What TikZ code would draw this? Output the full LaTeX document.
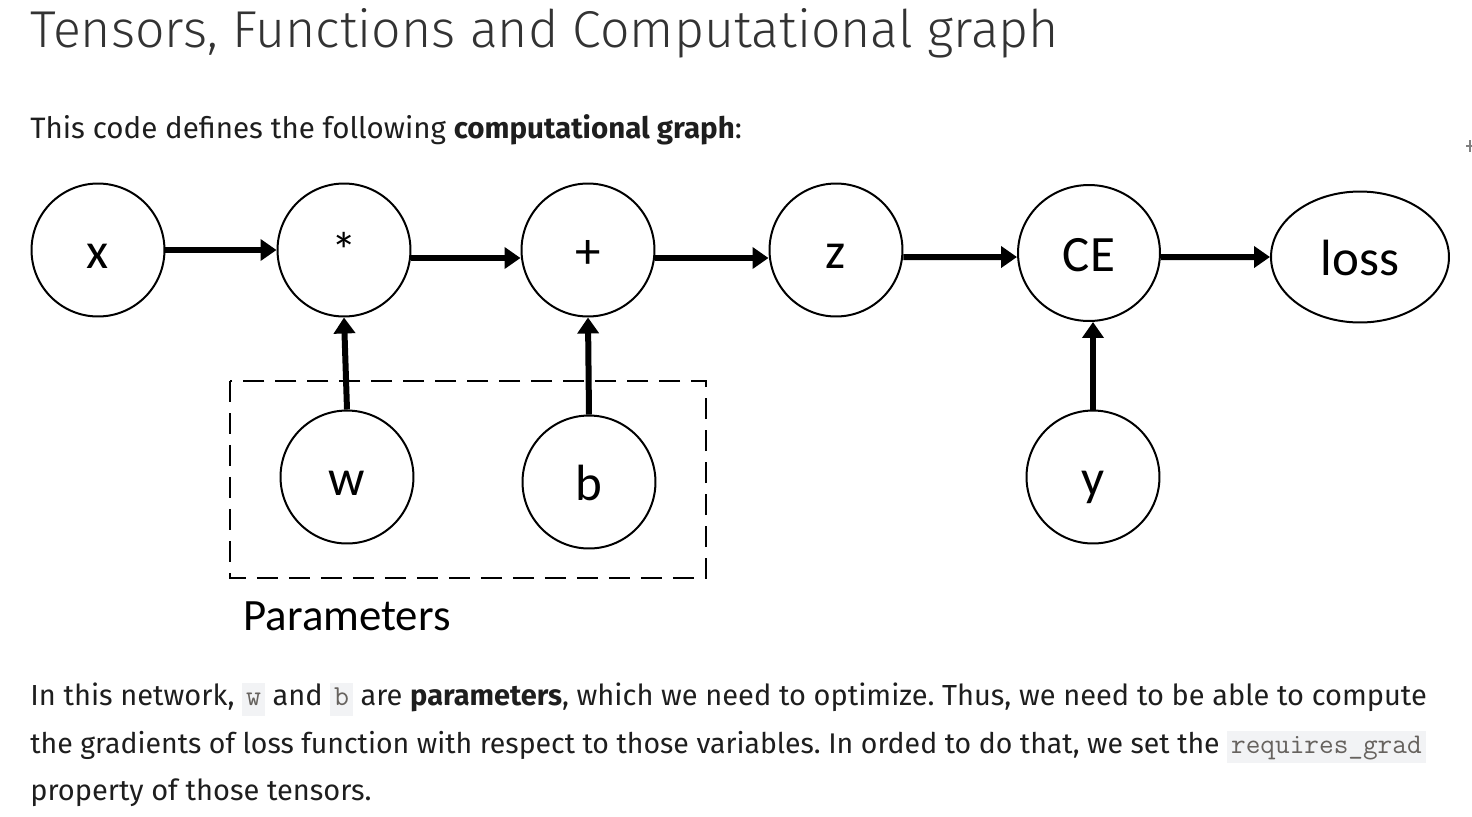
\documentclass[tikz,border=0pt]{standalone}
\usepackage{fontspec}
\setmainfont{Fira Sans}
\newfontfamily\titlefont{Fira Sans}[UprightFont=* Light]
\newfontfamily\graphfont{Carlito}
\usetikzlibrary{arrows.meta,positioning,shapes.geometric}
\definecolor{textfg}{HTML}{1E1E1E}
\definecolor{titlefg}{HTML}{333333}
\definecolor{codebg}{HTML}{F2F3F5}
\definecolor{codefg}{HTML}{66625E}
\newcommand{\inlinecode}[1]{{\setlength{\fboxsep}{2.2pt}\colorbox{codebg}{\ttfamily\color{codefg}\vphantom{Ag}#1}}}
\frenchspacing
\tikzset{
  graphnode/.style={draw, ellipse, line width=0.04cm, inner sep=0pt,
    minimum width=2.66cm, minimum height=2.66cm,
    text height=0.72cm, text depth=0cm,
    font=\graphfont\fontsize{29}{32}\selectfont},
  flow/.style={line width=0.12cm, -{Triangle[length=0.32cm,width=0.42cm]}},
  bodytext/.style={anchor=base west, inner sep=0pt, text=textfg,
    font=\fontsize{16.5}{19}\selectfont}
}
\begin{document}
\begin{tikzpicture}[x=0.02cm,y=-0.02cm]
    \useasboundingbox (0,0) rectangle (1472,816);

    % heading and intro line
    \node[anchor=base west, inner sep=0pt, text=titlefg,
      font=\titlefont\fontsize{29.5}{34}\selectfont] (title) at (30,47)
      {Tensors, Functions and Computational graph};
    \node[bodytext, font=\fontsize{16.8}{19}\selectfont] (intro) at (30,138)
      {This code defines the following \textbf{computational graph}:};

    % top row of the graph
    \node[graphnode] (x) at (98,250) {x};
    \node[graphnode] (mul) at (344,250) {*};
    \node[graphnode] (plus) at (588,250) {+};
    \node[graphnode] (z) at (836,250) {z};
    \node[graphnode, minimum width=2.84cm, minimum height=2.72cm] (ce) at (1089,253) {CE};
    \node[graphnode, minimum width=3.56cm, minimum height=2.62cm] (loss) at (1360,257) {loss};

    % inputs below
    \node[graphnode] (w) at (347,477) {w};
    \node[graphnode] (b) at (589,482) {b};
    \node[graphnode] (y) at (1093,477) {y};

    % parameter group
    \draw[line width=0.04cm, dash pattern=on 0.42cm off 0.22cm] (230,381) rectangle (706,578);
    \node[inner sep=0pt, font=\graphfont\fontsize{25.5}{28}\selectfont] (params) at (347,616) {Parameters};

    % connections
    \draw[flow] (x) -- (mul);
    \draw[flow] ([yshift=-0.16cm]mul.east) -- ([yshift=-0.16cm]plus.west);
    \draw[flow] ([yshift=-0.16cm]plus.east) -- ([yshift=-0.16cm]z.west);
    \draw[flow] ([yshift=-0.14cm]z.east) -- ([yshift=-0.08cm]ce.west);
    \draw[flow] ([yshift=-0.08cm]ce.east) -- (loss.west);
    \draw[flow] (w.north) -- (mul.south);
    \draw[flow] (b.north) -- (plus.south);
    \draw[flow] (y.north) -- (ce.south -| y.north);

    % explanation below
    \node[bodytext] (line1) at (30,705)
      {In this network, \inlinecode{w} and \inlinecode{b} are \textbf{parameters}, which we need to optimize. Thus, we need to be able to compute};
    \node[bodytext, font=\fontsize{16.2}{19}\selectfont] (line2) at (30,753)
      {the gradients of loss function with respect to those variables. In orded to do that, we set the \inlinecode{requires\_grad}};
    \node[bodytext] (line3) at (30,800)
      {property of those tensors.};

    % cut-off mark at the right edge
    \draw[gray, line width=0.03cm] (1466,146) -- (1472,146) (1470,140) -- (1470,152);
\end{tikzpicture}
\end{document}
